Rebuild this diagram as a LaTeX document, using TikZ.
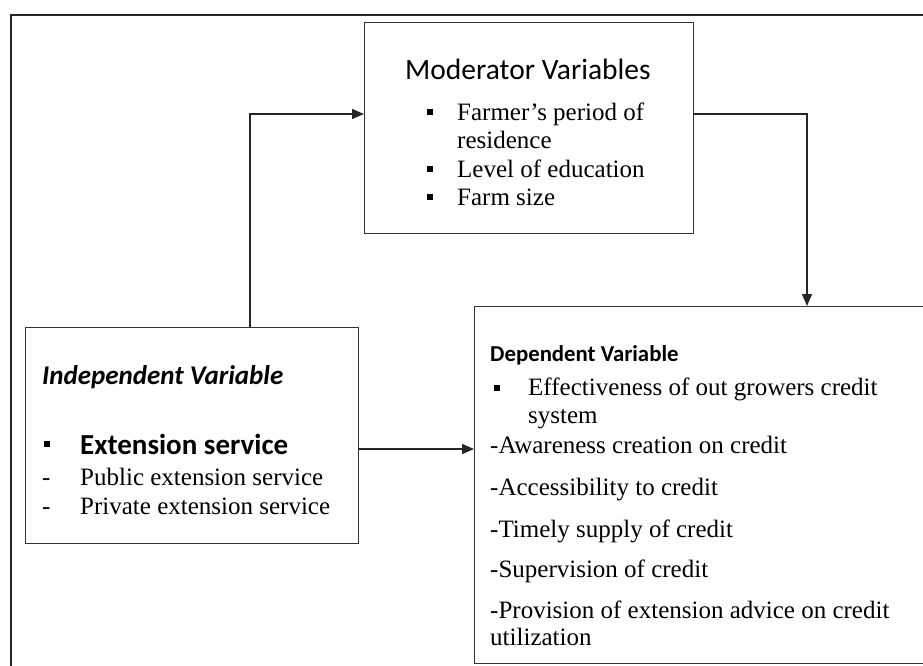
\documentclass[tikz,border=0pt]{standalone}
\usepackage{fontspec}
\setmainfont{Liberation Serif}
\newfontfamily\calfont{Carlito}
\usetikzlibrary{arrows.meta}
\tikzset{
  box/.style={draw=black!80, line width=1.4pt, inner sep=0pt, anchor=north west},
  frm/.style={draw=black!85, line width=2.4pt, inner sep=0pt, anchor=north west},
  txt/.style={anchor=base west, inner sep=0pt, font=\fontsize{25}{29}\selectfont},
  hdmod/.style={anchor=base west, inner sep=0pt, font=\calfont\fontsize{29.5}{34}\selectfont},
  hdind/.style={anchor=base west, inner sep=0pt, font=\calfont\bfseries\itshape\fontsize{27}{32}\selectfont},
  hdext/.style={anchor=base west, inner sep=0pt, font=\calfont\bfseries\fontsize{29}{34}\selectfont},
  hddep/.style={anchor=base west, inner sep=0pt, font=\calfont\bfseries\fontsize{22.8}{27}\selectfont},
  bul/.style={fill=black, minimum size=6pt, inner sep=0pt},
  arr/.style={draw=black!85, line width=1.4pt, -{Triangle[length=12pt,width=10pt]}}
}
\begin{document}
\begin{tikzpicture}[x=1pt, y=-1pt]
\useasboundingbox (0,0) rectangle (923,666);
\clip (0,0) rectangle (923,666);
\fill[white] (0,0) rectangle (923,666);
% outer frame (cropped at right and bottom)
\node[frm, minimum width=960pt, minimum height=700pt] (fr) at (10,14) {};
% boxes
\node[box, minimum width=329pt, minimum height=211pt] (mod) at (364,22) {};
\node[box, minimum width=333pt, minimum height=216pt] (ind) at (25,327) {};
\node[box, minimum width=480pt, minimum height=357pt] (dep) at (474,306) {};
% moderator text
\node[hdmod] (mt) at (405,80) {Moderator Variables};
\node[bul] (mb1) at (430,112) {};
\node[txt] (m1) at (457,121) {Farmer’s period of};
\node[txt] (m2) at (457,148) {residence};
\node[bul] (mb2) at (430,169) {};
\node[txt] (m3) at (457,177) {Level of education};
\node[bul] (mb3) at (430,197) {};
\node[txt] (m4) at (457,205) {Farm size};
% independent text
\node[hdind] (it) at (42,384) {Independent Variable};
\node[bul] (ib) at (47,444) {};
\node[hdext] (i1) at (80,454) {Extension service};
\node[txt] (id1) at (42,485) {-};
\node[txt] (i2) at (80,485) {Public extension service};
\node[txt] (id2) at (42,514) {-};
\node[txt] (i3) at (80,514) {Private extension service};
% dependent text
\node[hddep] (dt) at (490,361) {Dependent Variable};
\node[bul] (db) at (497,388) {};
\node[txt] (d1) at (528,395) {Effectiveness of out growers credit};
\node[txt] (d2) at (528,423) {system};
\node[txt] (d3) at (490,453) {-Awareness creation on credit};
\node[txt] (d4) at (490,495) {-Accessibility to credit};
\node[txt] (d5) at (490,537) {-Timely supply of credit};
\node[txt] (d6) at (490,577) {-Supervision of credit};
\node[txt] (d7) at (490,618) {-Provision of extension advice on credit};
\node[txt] (d8) at (490,645) {utilization};
% connectors
\coordinate (p1) at (250,114);
\draw[arr] (ind.north -| p1) -- (p1) -- (mod.west |- p1);
\coordinate (p2) at (807,114);
\draw[arr] (mod.east |- p2) -- (p2) -- (dep.north -| p2);
\coordinate (p3) at (0,449);
\draw[arr] (ind.east |- p3) -- (dep.west |- p3);
\end{tikzpicture}
\end{document}
